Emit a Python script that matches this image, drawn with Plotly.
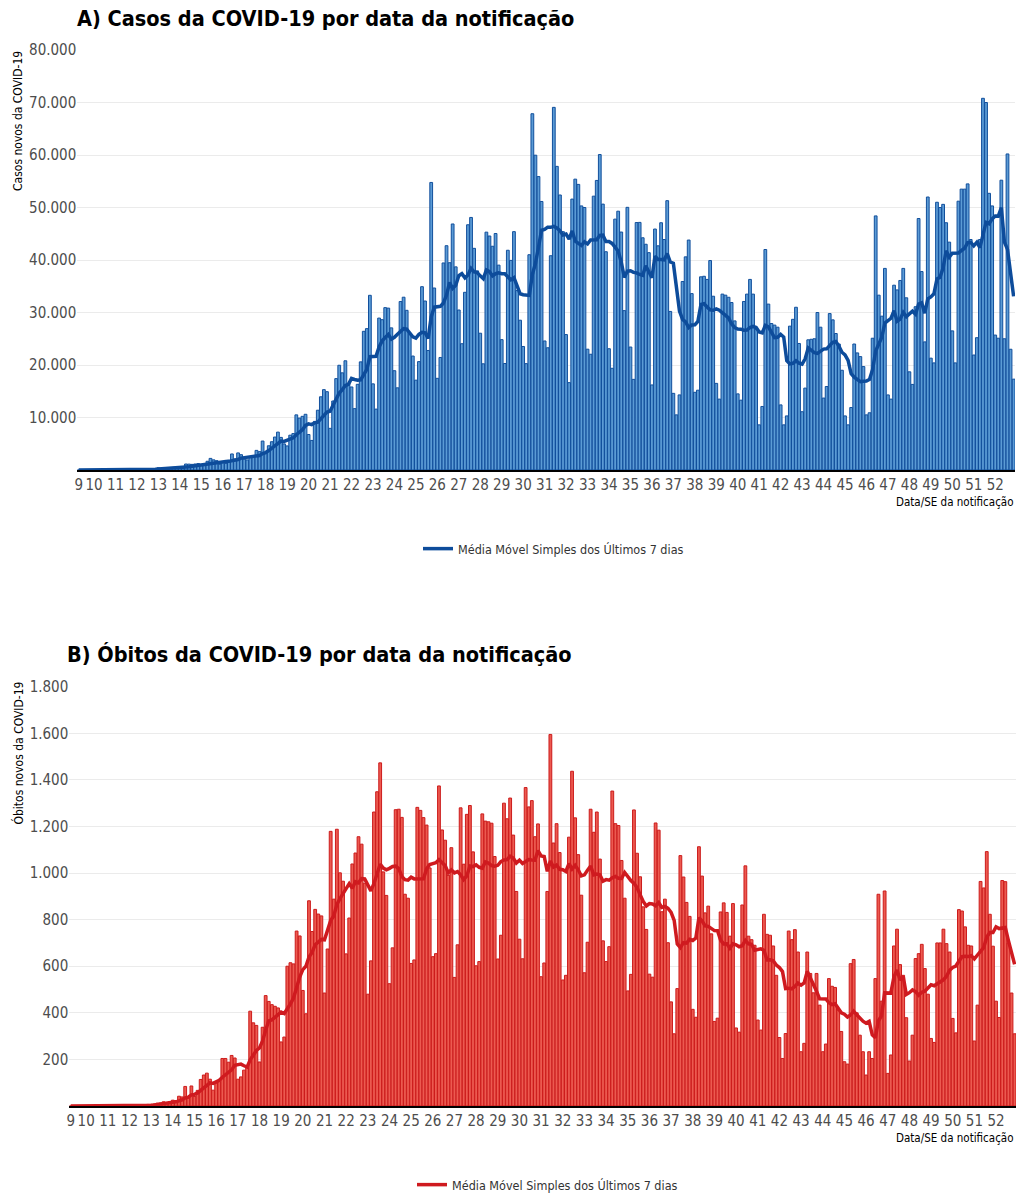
import pandas as pd
import plotly.graph_objects as go

# Daily new cases, by epidemiological week (SE 9 starts on Tue 25/02/2020)
casos = [
    0, 1, 0, 0, 1,
    0, 0, 0, 1, 5, 5, 6,
    6, 0, 9, 18, 25, 21, 23,
    79, 34, 57, 137, 193, 283, 224,
    418, 345, 310, 232, 482, 502, 487,
    352, 323, 1138, 1119, 1074, 1146, 1222,
    852, 926, 1661, 2210, 1930, 1781, 1089,
    1442, 1261, 1832, 3058, 2105, 3257, 2917,
    2055, 1927, 2498, 2678, 3735, 3503, 5514,
    3379, 4613, 5385, 6276, 7218, 6209, 4970,
    4588, 6633, 6935, 10503, 9888, 10222, 10611,
    6760, 5632, 9258, 11385, 13944, 15305, 14919,
    7938, 13140, 17408, 19951, 18508, 20803, 16508,
    15813, 11687, 16324, 20599, 26417, 26928, 33274,
    16409, 11598, 28936, 28633, 30925, 30830, 27075,
    18912, 15654, 32091, 32913, 30412, 25982, 21704,
    17110, 20647, 34918, 32188, 22765, 54771, 34666,
    17459, 21432, 39436, 42725, 39483, 46860, 38693,
    30476, 24052, 33846, 46712, 48105, 42223, 37923,
    26051, 20229, 45305, 44571, 42619, 45048, 39023,
    24831, 20286, 41857, 39924, 45403, 34177, 28532,
    23529, 20257, 41008, 67860, 59961, 55891, 51147,
    24578, 23284, 40816, 69074, 57837, 52383, 45392,
    25800, 16641, 51603, 55400, 54400, 50300, 50000,
    23010, 22048, 52160, 55155, 60091, 50644, 41576,
    23101, 19373, 47784, 49298, 45323, 30355, 50032,
    23421, 17264, 47134, 47161, 44235, 43000, 41400,
    16200, 45900, 42700, 47100, 43900, 51300, 30200,
    14600, 10500, 14300, 35900, 40600, 43800, 33600,
    14800, 15200, 36800, 36900, 36300, 39900, 33100,
    16500, 13500, 33500, 33300, 32900, 31900, 28400,
    14500, 13300, 32100, 33500, 36300, 33500, 26800,
    8600, 12100, 42000, 31600, 27900, 27600, 27200,
    12400, 8600, 10300, 27400, 28700, 31000, 24100,
    11100, 15600, 24800, 24900, 25000, 30000, 27200,
    13700, 15900, 29800, 28600, 26000, 24000, 19000,
    10300, 8600, 11900, 24000, 22300, 21600, 19700,
    10500, 10900, 25100, 48400, 33300, 29300, 38400,
    14300, 13500, 35200, 34300, 36100, 38400, 32800,
    18700, 16300, 31100, 47900, 37800, 24400, 52000,
    21300, 20400, 51000, 50000, 50600, 47100, 43400,
    26500, 20400, 51200, 53500, 53500, 54500, 43900,
    21900, 25200, 43900, 70800, 70000, 52700, 50300,
    25700, 25100, 55200, 25000, 60200, 23000, 17300,
]

# Daily new deaths, same calendar
obitos = [
    0, 0, 0, 0, 0,
    0, 0, 0, 0, 0, 0, 0,
    0, 0, 0, 0, 0, 0, 0,
    0, 0, 1, 3, 3, 4, 7,
    7, 9, 12, 13, 18, 15, 19,
    25, 23, 42, 39, 84, 35, 86,
    41, 67, 114, 133, 141, 115, 68,
    99, 105, 204, 204, 188, 217, 206,
    115, 125, 154, 165, 407, 357, 346,
    189, 338, 474, 449, 435, 428, 421,
    275, 296, 600, 615, 610, 751, 730,
    496, 396, 881, 749, 844, 824, 816,
    485, 674, 1179, 888, 1188, 1001, 965,
    653, 807, 1039, 1086, 1156, 1124, 956,
    480, 623, 1262, 1349, 1473, 1005, 904,
    525, 679, 1272, 1274, 1239, 909, 892,
    612, 627, 1282, 1269, 1238, 1206, 1022,
    641, 654, 1374, 1185, 1141, 990, 1109,
    552, 692, 1280, 1038, 1252, 1290, 1091,
    602, 620, 1254, 1223, 1220, 1214, 1071,
    631, 733, 1300, 1233, 1322, 1163, 921,
    716, 632, 1367, 1284, 1311, 1156, 1211,
    555, 614, 921, 1595, 1129, 1212, 1088,
    541, 561, 1154, 1437, 1237, 1079, 905,
    572, 703, 1274, 1175, 1262, 1060, 709,
    620, 684, 1352, 1212, 1204, 1054, 892,
    494, 565, 1271, 1085, 984, 855, 758,
    566, 553, 1215, 1184, 834, 888, 701,
    447, 310, 504, 1075, 983, 874, 814,
    415, 381, 1113, 987, 829, 858, 739,
    363, 377, 833, 872, 831, 729, 869,
    335, 317, 863, 1031, 729, 714, 690,
    369, 326, 823, 737, 733, 687, 561,
    294, 204, 311, 751, 714, 757, 661,
    233, 269, 661, 569, 486, 569, 433,
    233, 266, 547, 514, 509, 411, 320,
    190, 180, 611, 629, 400, 304, 233,
    133, 233, 204, 547, 909, 450, 923,
    140, 219, 687, 759, 607, 561, 379,
    193, 304, 633, 654, 694, 590, 480,
    290, 273, 700, 700, 759, 697, 661,
    376, 314, 843, 837, 769, 690, 687,
    279, 433, 964, 936, 1092, 823, 686,
    450, 380, 968, 963, 700, 485, 310,
]

semanas = list(range(9, 53))
casos_ticks = [10000, 20000, 30000, 40000, 50000, 60000, 70000, 80000]
casos_labels = ["10.000", "20.000", "30.000", "40.000", "50.000", "60.000", "70.000", "80.000"]
obitos_ticks = [200, 400, 600, 800, 1000, 1200, 1400, 1600, 1800]
obitos_labels = ["200", "400", "600", "800", "1.000", "1.200", "1.400", "1.600", "1.800"]

LEGENDA = "Média Móvel Simples dos Últimos 7 dias"
FONT = "Liberation Sans Narrow, Arial Narrow, DejaVu Sans Condensed, Roboto, sans-serif"

dias = pd.date_range("2020-02-25", periods=len(casos), freq="D")
mm_casos = pd.Series(casos).rolling(7, min_periods=1).mean()
mm_obitos = pd.Series(obitos).rolling(7, min_periods=1).mean()

# week labels: first day of the series, then every Sunday that opens an SE
tick_dates = [dias[0]] + list(pd.date_range("2020-03-01", periods=len(semanas) - 1, freq="7D"))
tick_text = [str(s) for s in semanas]

W, H = 1018, 1194


def fx(px):
    return px / W


def fy(px):
    return 1 - px / H


half = pd.Timedelta(hours=10.8)
x_range = [dias[0] - half, dias[-1] + half]

fig = go.Figure()

fig.add_trace(go.Bar(
    x=dias, y=casos, xaxis="x", yaxis="y", showlegend=False,
    marker=dict(color="#5b9bd5", line=dict(color="#114f9c", width=1)),
))
fig.add_trace(go.Scatter(
    x=dias, y=mm_casos, xaxis="x", yaxis="y", mode="lines", name=LEGENDA,
    line=dict(color="#0d4c9b", width=3.5), legend="legend",
))
fig.add_trace(go.Bar(
    x=dias, y=obitos, xaxis="x2", yaxis="y2", showlegend=False,
    marker=dict(color="#ec5a50", line=dict(color="#cc1b1b", width=1)),
))
fig.add_trace(go.Scatter(
    x=dias, y=mm_obitos, xaxis="x2", yaxis="y2", mode="lines", name=LEGENDA,
    line=dict(color="#cf1a1f", width=3.5), legend="legend2",
))

tickfont = dict(family=FONT, size=15, color="#4d4d4d")
xcommon = dict(
    range=x_range, tickvals=tick_dates, ticktext=tick_text, showgrid=False,
    showline=True, linecolor="black", linewidth=2, ticks="", zeroline=False,
    tickfont=tickfont, tickangle=0, fixedrange=True, automargin=False,
)
ycommon = dict(
    gridcolor="#ebebeb", gridwidth=1, zeroline=False, showline=False, ticks="",
    tickfont=tickfont, fixedrange=True, automargin=False,
)


def note(text, x, y, size, xanchor="left", yanchor="middle", angle=0, bold=False):
    return dict(
        text=f"<b>{text}</b>" if bold else text, x=fx(x), y=fy(y),
        xref="paper", yref="paper", xanchor=xanchor, yanchor=yanchor,
        showarrow=False, textangle=angle,
        font=dict(family=FONT, size=size, color="black"),
    )


fig.update_layout(
    width=W, height=H,
    margin=dict(l=0, r=0, t=0, b=0, pad=0, autoexpand=False),
    paper_bgcolor="white", plot_bgcolor="white",
    bargap=0.1,
    font=dict(family=FONT, color="black"),
    xaxis=dict(domain=[fx(77.3), fx(1015)], anchor="y", **xcommon),
    yaxis=dict(domain=[fy(470), fy(50)], anchor="x", range=[0, 80000],
               tickvals=casos_ticks, ticktext=casos_labels, **ycommon),
    xaxis2=dict(domain=[fx(69.3), fx(1016)], anchor="y2", **xcommon),
    yaxis2=dict(domain=[fy(1106), fy(686.7)], anchor="x2", range=[0, 1800],
                tickvals=obitos_ticks, ticktext=obitos_labels, **ycommon),
    legend=dict(x=fx(418), y=fy(549), xanchor="left", yanchor="middle", orientation="h",
                font=dict(family=FONT, size=12.5, color="#333333"), bgcolor="rgba(0,0,0,0)"),
    legend2=dict(x=fx(412), y=fy(1185), xanchor="left", yanchor="middle", orientation="h",
                 font=dict(family=FONT, size=12.5, color="#333333"), bgcolor="rgba(0,0,0,0)"),
    annotations=[
        note("A) Casos da COVID-19 por data da notificação", 75, 19, 21.5, bold=True),
        note("B) Óbitos da COVID-19 por data da notificação", 65, 655, 21.5, bold=True),
        note("Casos novos da COVID-19", 18, 49, 12, xanchor="center", yanchor="top", angle=-90),
        note("Óbitos novos da COVID-19", 18, 680, 12, xanchor="center", yanchor="top", angle=-90),
        note("Data/SE da notificação", 1016, 502, 11.5, xanchor="right"),
        note("Data/SE da notificação", 1016, 1138, 11.5, xanchor="right"),
    ],
)

fig.write_html(
    "out.html",
    post_script="document.documentElement.style.margin='0';"
                "document.body.style.margin='0';document.body.style.padding='0';",
)
